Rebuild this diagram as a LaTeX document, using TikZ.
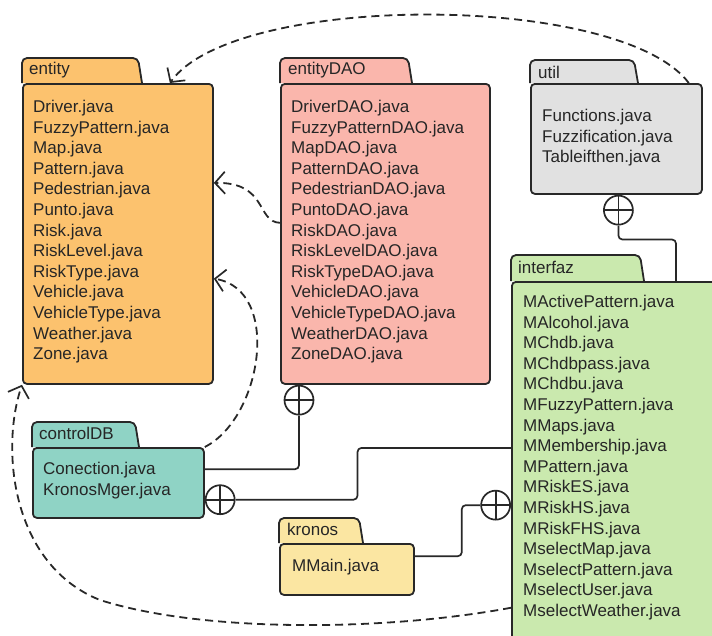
\documentclass[tikz,border=0pt]{standalone}
\usepackage{fontspec}
\setmainfont{Liberation Sans}
\usetikzlibrary{arrows.meta}

\definecolor{pkgline}{RGB}{40,40,40}
\definecolor{entityfill}{RGB}{252,194,110}
\definecolor{daofill}{RGB}{250,182,172}
\definecolor{utilfill}{RGB}{225,225,225}
\definecolor{guifill}{RGB}{202,233,174}
\definecolor{dbfill}{RGB}{143,211,197}
\definecolor{kronosfill}{RGB}{251,230,162}

\begin{document}
\begin{tikzpicture}[x=1pt,y=-1pt,
  font=\fontsize{17}{20.6}\selectfont,
  body/.style={draw=pkgline,line width=1.8pt,rounded corners=4pt,anchor=north west,inner sep=0},
  tabbox/.style={draw=pkgline,line width=1.8pt,rounded corners=5pt},
  tabname/.style={anchor=west,inner sep=0,text=black!85},
  files/.style={align=left,anchor=north west,inner sep=0,text=black!85},
  nested/.style={draw=pkgline,line width=1.7pt,rounded corners=4pt},
  uses/.style={draw=pkgline,line width=1.8pt,dash pattern=on 8pt off 5pt,
    -{Straight Barb[length=10pt,width=22pt,line width=1.7pt]}},
  plus/.style={circle,draw=pkgline,line width=1.7pt,fill=white,minimum size=29pt,inner sep=0,
    path picture={\draw[pkgline,line width=1.7pt]
      (path picture bounding box.north) -- (path picture bounding box.south)
      (path picture bounding box.west) -- (path picture bounding box.east);}}]
\useasboundingbox (0,0) rectangle (712,635);
\clip (0,0) rectangle (712,635);

% entity
\draw[tabbox,fill=entityfill] (22,83) -- (22,58) -- (138,58) -- (142,83);
\node[body,fill=entityfill,minimum width=190pt,minimum height=300pt] (entity) at (22,83) {};
\node[tabname] (entityname) at (29,70) {entity};
\node[files] (entityfiles) at (33,100) {Driver.java\\FuzzyPattern.java\\Map.java\\Pattern.java\\Pedestrian.java\\Punto.java\\Risk.java\\RiskLevel.java\\RiskType.java\\Vehicle.java\\VehicleType.java\\Weather.java\\Zone.java};

% entityDAO
\draw[tabbox,fill=daofill] (280,83) -- (280,58) -- (408,58) -- (412,83);
\node[body,fill=daofill,minimum width=209pt,minimum height=300pt] (entityDAO) at (280,83) {};
\node[tabname] (entityDAOname) at (288,70) {entityDAO};
\node[files] (entityDAOfiles) at (291,100) {DriverDAO.java\\FuzzyPatternDAO.java\\MapDAO.java\\PatternDAO.java\\PedestrianDAO.java\\PuntoDAO.java\\RiskDAO.java\\RiskLevelDAO.java\\RiskTypeDAO.java\\VehicleDAO.java\\VehicleTypeDAO.java\\WeatherDAO.java\\ZoneDAO.java};

% util
\draw[tabbox,fill=utilfill] (530,83) -- (530,60) -- (634,60) -- (638,83);
\node[body,fill=utilfill,minimum width=171pt,minimum height=110pt] (util) at (530,83) {};
\node[tabname] (utilname) at (538,72) {util};
\node[files] (utilfiles) at (542,109) {Functions.java\\Fuzzification.java\\Tableifthen.java};

% interfaz
\draw[tabbox,fill=guifill] (511,281) -- (511,255) -- (640,255) -- (644,281);
\node[body,fill=guifill,minimum width=219pt,minimum height=379pt] (interfaz) at (511,281) {};
\node[tabname] (interfazname) at (518,267) {interfaz};
\node[files] (interfazfiles) at (523,295) {MActivePattern.java\\MAlcohol.java\\MChdb.java\\MChdbpass.java\\MChdbu.java\\MFuzzyPattern.java\\MMaps.java\\MMembership.java\\MPattern.java\\MRiskES.java\\MRiskHS.java\\MRiskFHS.java\\MselectMap.java\\MselectPattern.java\\MselectUser.java\\MselectWeather.java};

% controlDB
\draw[tabbox,fill=dbfill] (32,447) -- (32,422) -- (135,422) -- (139,447);
\node[body,fill=dbfill,minimum width=171pt,minimum height=70pt] (controlDB) at (32,447) {};
\node[tabname] (controlDBname) at (39,433) {controlDB};
\node[files] (controlDBfiles) at (43,462) {Conection.java\\KronosMger.java};

% kronos
\draw[tabbox,fill=kronosfill] (279,543) -- (279,518) -- (359,518) -- (363,543);
\node[body,fill=kronosfill,minimum width=134pt,minimum height=51pt] (kronos) at (279,543) {};
\node[tabname] (kronosname) at (287,529) {kronos};
\node[files] (kronosfiles) at (292,559) {MMain.java};

% containment
\node[plus,anchor=north] (utilplus) at ([xshift=2pt]util.south) {};
\node[plus,anchor=north] (daoplus) at ([xshift=19pt]entityDAO.south west) {};
\node[plus,anchor=west] (dbplus) at (controlDB.-11) {};
\node[plus,anchor=east] (kronosplus) at (interfaz.197) {};

\draw[nested] (utilplus.south) -- ++(0,14) -| (interfaz.74);
\draw[nested] (daoplus.south) |- (controlDB.9);
\draw[nested] (dbplus.east) -- ++(122,0) |- (interfaz.168);
\draw[nested] (kronos.11) -- ++(47,0) |- (kronosplus.west);

% dependencies
\draw[uses] ([xshift=-14pt]util.north east) .. controls (620,-8) and (235,-8) .. (entity.71);
\draw[uses] (entityDAO.174) .. controls (256,222) and (268,182) .. (entity.28);
\draw[uses] (controlDB.north east) .. controls (262,418) and (282,290) .. (entity.-25);
\draw[uses] (interfaz.231) .. controls (380,632) and (200,632) .. (100,600)
  .. controls (12,565) and (0,450) .. (entity.south west);
\end{tikzpicture}
\end{document}
